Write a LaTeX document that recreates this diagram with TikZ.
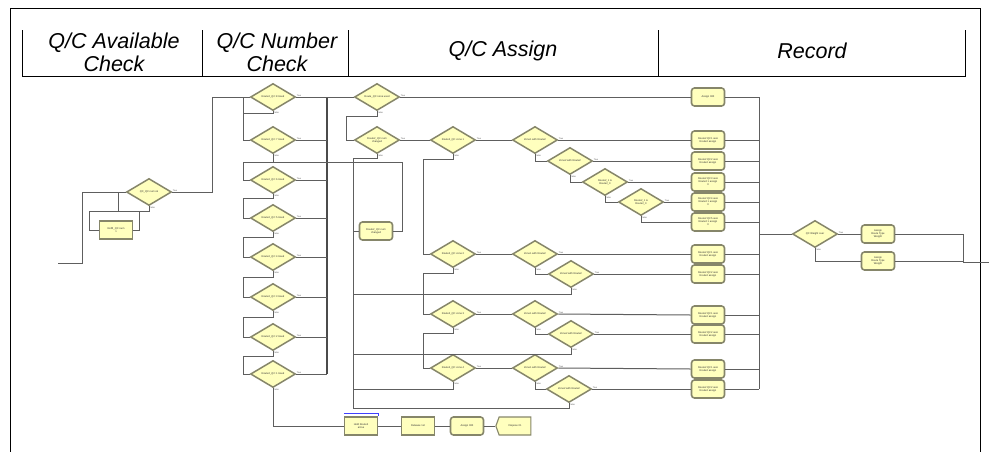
\documentclass[tikz,border=0pt]{standalone}
\usepackage{fontspec}
\setmainfont{Liberation Sans}
\usetikzlibrary{shapes.geometric,shapes.symbols}
\definecolor{fillY}{HTML}{FFFFBE}
\definecolor{edgeG}{HTML}{86866A}
\definecolor{lineG}{HTML}{5E5E5E}
\begin{document}
\begin{tikzpicture}[x=1pt,y=-1pt,
 ln/.style={draw=lineG,line width=1pt},
 bus/.style={draw=lineG!80!black,line width=1.6pt},
 tinyt/.style={font=\fontsize{2.6}{3}\selectfont, text=black!80, align=center},
 lab/.style={font=\fontsize{2.2}{2.5}\selectfont, text=black!65, inner sep=0.3pt},
 dia/.style={diamond, aspect=1.7, draw=edgeG, line width=1.5pt, fill=fillY, minimum width=45pt, minimum height=27pt, inner sep=0pt, tinyt,
   label={[lab,anchor=south west]east:True}, label={[lab,anchor=north west]south:False}},
 rec/.style={rectangle, rounded corners=3pt, draw=edgeG, line width=1.6pt, fill=fillY, minimum width=33pt, minimum height=18pt, inner sep=0.5pt, tinyt},
 sq/.style={rectangle, draw=edgeG, line width=1.1pt, fill=fillY, minimum width=33pt, minimum height=18pt, inner sep=0.5pt, tinyt},
 hdr/.style={font=\fontsize{21.5}{23}\selectfont\itshape, align=center},
]
\useasboundingbox (0,0) rectangle (989,451);
\fill[white] (0,0) rectangle (989,451);
% frame and header
\draw[black,line width=0.8pt] (10,455) -- (10,8) -- (980,8) -- (980,455);
\draw[black,line width=0.8pt] (22,76) -- (965,76);
\foreach \xx in {22,202,348,658,965} {\draw[black,line width=0.8pt] (\xx,30) -- (\xx,77);}
\node[hdr] (h1) at (114,52) {Q/C Available\\Check};
\node[hdr] (h2) at (277,52) {Q/C Number\\Check};
\node[hdr] (h3) at (503,51) {Q/C Assign};
\node[hdr] (h4) at (812,51) {Record};

% available check
\coordinate (in) at (58,263);
\node[dia] (d0) at (149,192) {QC\_QC num ok};
\node[sq] (r0) at (116,230) {Refill\_QC num\\1};

% number check column
\node[dia] (d1) at (273,97) {Route2\_QC 8 Used};
\node[dia] (d2) at (273,140) {Route2\_QC 7 Used};
\node[dia] (d3) at (273,180) {Route2\_QC 6 Used};
\node[dia] (d4) at (273,218) {Route2\_QC 5 Used};
\node[dia] (d5) at (273,257) {Route2\_QC 4 Used};
\node[dia] (d6) at (273,297) {Route2\_QC 3 Used};
\node[dia] (d7) at (273,337) {Route2\_QC 2 Used};
\node[dia] (d8) at (273,374) {Route2\_QC 1 Used};

% assign
\node[dia] (d9) at (377,97) {Route\_QC none used};
\node[dia] (d10) at (377,140) {Route2\_QC num\\changed};
\node[rec] (r1) at (376,231) {Route2\_QC num\\changed};
\node[dia] (d11) at (453,140) {Route2\_QC zone 1};
\node[dia] (d12) at (535,140) {Zone1 with Route2};
\node[dia] (d13) at (570,161) {Zone2 with Route2};
\node[dia] (d14) at (605,182) {Route2\_1 is\\Route2\_0};
\node[dia] (d15) at (641,202) {Route2\_1 is\\Route2\_0};
\node[dia] (d16) at (453,254) {Route2\_QC zone 2};
\node[dia] (d17) at (535,254) {Zone1 with Route2};
\node[dia] (d18) at (571,274) {Zone2 with Route2};
\node[dia] (d19) at (453,314) {Route2\_QC zone 3};
\node[dia] (d20) at (535,314) {Zone1 with Route2};
\node[dia] (d21) at (571,334) {Zone2 with Route2};
\node[dia] (d22) at (453,368) {Route2\_QC zone 4};
\node[dia] (d23) at (535,368) {Zone1 with Route2};
\node[dia] (d24) at (569,389) {Zone2 with Route2};

% bottom row
\node[sq] (b1) at (361,426) {Hold Route2\\arrive};
\node[sq] (b2) at (418,426) {Release 1st};
\node[rec] (b3) at (467,426) {Assign 000};
\node[signal, signal to=west, signal pointer angle=140, draw=edgeG, line width=1.1pt, fill=fillY, minimum width=35pt, minimum height=18pt, inner sep=0.5pt, tinyt] (b4) at (515,426) {Dispose 01};
\draw[blue!75,line width=0.6pt] ([yshift=3pt]b1.north west) -- ([yshift=3pt]b1.north east) -- ++(0,-2.5pt);

% record column
\node[rec] (a0) at (708,97) {Assign 000};
\node[rec] (a1) at (708,140) {Route2 QC1 assi\\Route2 assign};
\node[rec] (a2) at (708,161) {Route2 QC2 assi\\Route2 assign};
\node[rec] (a3) at (708,182) {Route2 QC3 assi\\Route2 1 assign\\0};
\node[rec] (a4) at (708,202) {Route2 QC4 assi\\Route2 1 assign\\0};
\node[rec] (a5) at (708,222) {Route2 QC5 assi\\Route2 1 assign\\0};
\node[rec] (a6) at (708,254) {Route2 QC1 assi\\Route2 assign};
\node[rec] (a7) at (708,274) {Route2 QC2 assi\\Route2 assign};
\node[rec] (a8) at (708,315) {Route2 QC1 assi\\Route2 assign};
\node[rec] (a9) at (708,334) {Route2 QC2 assi\\Route2 assign};
\node[rec] (a10) at (708,369) {Route2 QC1 assi\\Route2 assign};
\node[rec] (a11) at (708,389) {Route2 QC2 assi\\Route2 assign};
\node[dia] (dl) at (815,234) {QC Weight over};
\node[rec] (ra) at (878,234) {Assign\\Route Type\\Weight};
\node[rec] (rb) at (878,261) {Assign\\Route Type\\Weight};
\coordinate (out) at (989,262);

% ---- connectors ----
\draw[ln] (in) -| (82,192) -- (d0.west);
\draw[ln] (118,192) -- (118,211);
\draw[ln] (d0.south) |- (89,211) |- (r0.west);
\draw[ln] (r0.east) -| (139,211);
\draw[ln] (d0.east) -| (212,97) -- (d1.west);

\draw[ln] (d1.south) |- (243,113) |- (d2.west);
\draw[ln] (d2.south) |- (243,162) |- (d3.west);
\draw[ln] (d3.south) |- (243,198) |- (d4.west);
\draw[ln] (d4.south) |- (243,237) |- (d5.west);
\draw[ln] (d5.south) |- (243,277) |- (d6.west);
\draw[ln] (d6.south) |- (243,317) |- (d7.west);
\draw[ln] (d7.south) |- (243,356) |- (d8.west);
\draw[ln] (243,97) -- (243,113);

\coordinate (nb) at (327,97);
\draw[bus] (nb) -- (327,374);
\foreach \k in {2,...,8} {\draw[ln] (d\k.east) -- (d\k.east -| nb);}
\draw[ln] (d1.east) -- (d9.west);

\draw[ln] (d8.south) |- (b1.west);
\draw[ln] (b1) -- (b2);
\draw[ln] (b2) -- (b3);
\draw[ln] (b3) -- (b4);

\draw[ln] (d9.south) |- (346,116) |- (d10.west);
\draw[ln] (d9.east) -- (a0.west);
\draw[ln] (d10.south) |- (353,158) -- (353,408);
\draw[ln] (353,231) -- (r1.west);
\draw[ln] (r1.east) -| (402,162) -- (243,162);
\draw[ln] (d10.east) -- (d11.west);
\draw[ln] (d11.east) -- (d12.west);
\draw[ln] (d12.east) -- (a1.west);
\draw[ln] (d12.south) |- (d13.west);
\draw[ln] (d13.east) -- (a2.west);
\draw[ln] (d13.south) |- (d14.west);
\draw[ln] (d14.east) -- (a3.west);
\draw[ln] (d14.south) |- (d15.west);
\draw[ln] (d15.east) -- (a4.west);
\draw[ln] (d15.south) |- (a5.west);

\draw[ln] (d11.south) |- (423,159) |- (d16.west);
\draw[ln] (d16.east) -- (d17.west);
\draw[ln] (d17.east) -- (a6.west);
\draw[ln] (d17.south) |- (d18.west);
\draw[ln] (d18.east) -- (a7.west);
\draw[ln] (d18.south) |- (353,294);
\draw[ln] (d16.south) |- (423,273) |- (d19.west);
\draw[ln] (d19.east) -- (d20.west);
\draw[ln] (d20.east) -- (a8.west);
\draw[ln] (d20.south) |- (d21.west);
\draw[ln] (d21.east) -- (a9.west);
\draw[ln] (d21.south) |- (353,354);
\draw[ln] (d19.south) |- (423,333) |- (d22.west);
\draw[ln] (d22.east) -- (d23.west);
\draw[ln] (d23.east) -- (a10.west);
\draw[ln] (d23.south) |- (d24.west);
\draw[ln] (d24.east) -- (a11.west);
\draw[ln] (d24.south) |- (353,408);
\draw[ln] (d22.south) |- (353,389);

\coordinate (rbus) at (759,97);
\draw[ln] (rbus) -- (759,389);
\foreach \k in {0,...,11} {\draw[ln] (a\k.east) -- (a\k.east -| rbus);}
\draw[ln] (759,234) -- (dl.west);
\draw[ln] (dl.east) -- (ra.west);
\draw[ln] (dl.south) |- (rb.west);
\draw[ln] (ra.east) -| (963,262) -- (out);
\draw[ln] (rb.east) -- (963,261);
\end{tikzpicture}
\end{document}
